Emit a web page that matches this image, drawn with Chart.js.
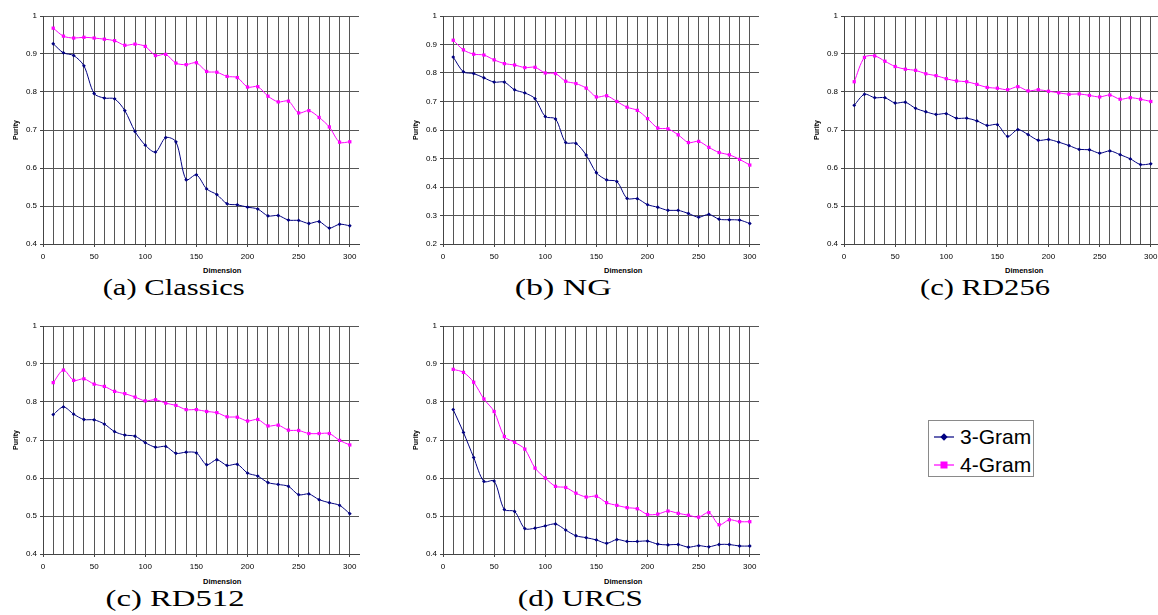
<!DOCTYPE html>
<html>
<head>
<meta charset="utf-8">
<script src="https://cdn.jsdelivr.net/npm/chart.js@4/dist/chart.umd.min.js"></script>
<style>
html,body{margin:0;padding:0;background:#fff;}
body{width:1158px;height:615px;overflow:hidden;position:relative;}
.panel{position:absolute;}
.cap{position:absolute;font-family:'Liberation Serif','Times New Roman',serif;font-size:24px;line-height:24px;white-space:nowrap;color:#000;transform-origin:center center;}
.dim{position:absolute;font-family:'Liberation Sans',Arial,sans-serif;font-size:7.5px;font-weight:bold;line-height:9px;white-space:nowrap;color:#000;}
#legend{position:absolute;left:928px;top:420px;width:104px;height:55px;border:1px solid #8a8a8a;background:#fff;}
.li{position:absolute;left:4px;height:24px;display:flex;align-items:center;font-family:'Liberation Sans',Arial,sans-serif;font-size:21px;color:#000;}
.li svg{margin-right:5px;}
</style>
</head>
<body>
<div class="panel" style="left:0px;top:0px"><canvas id="cA" width="369" height="264"></canvas></div>
<div class="panel" style="left:400px;top:0px"><canvas id="cB" width="369" height="264"></canvas></div>
<div class="panel" style="left:801px;top:0px"><canvas id="cC" width="369" height="264"></canvas></div>
<div class="panel" style="left:0px;top:310px"><canvas id="cD" width="369" height="264"></canvas></div>
<div class="panel" style="left:400px;top:310px"><canvas id="cE" width="369" height="264"></canvas></div>

<div class="dim" style="left:203px;top:266px">Dimension</div>
<div class="dim" style="left:604px;top:266px">Dimension</div>
<div class="dim" style="left:1005px;top:266px">Dimension</div>
<div class="dim" style="left:203px;top:577px">Dimension</div>
<div class="dim" style="left:604px;top:577px">Dimension</div>

<div class="cap" data-c="174" data-w="142" style="top:275px">(a) Classics</div>
<div class="cap" data-c="563" data-w="97" style="top:275px">(b) NG</div>
<div class="cap" data-c="985" data-w="130" style="top:275px">(c) RD256</div>
<div class="cap" data-c="175" data-w="139" style="top:586px">(c) RD512</div>
<div class="cap" data-c="580" data-w="125" style="top:586px">(d) URCS</div>

<div id="legend">
  <div class="li" style="top:4px"><svg width="22" height="10"><line x1="1" y1="5" x2="21" y2="5" stroke="#000080" stroke-width="1.2"/><polygon points="11,1.3 14.7,5 11,8.7 7.3,5" fill="#000080"/></svg><span>3-Gram</span></div>
  <div class="li" style="top:32px"><svg width="22" height="10"><line x1="1" y1="5" x2="21" y2="5" stroke="#ff00ff" stroke-width="1.2"/><rect x="7.5" y="1.5" width="7" height="7" fill="#ff00ff"/></svg><span>4-Gram</span></div>
</div>

<script>
// ---- data ----
const dims = [10,20,30,40,50,60,70,80,90,100,110,120,130,140,150,160,170,180,190,200,210,220,230,240,250,260,270,280,290,300];
const xGridValues = [0,10,20,30,40,50,60,70,80,90,100,110,120,130,140,150,160,170,180,190,200,210,220,230,240,250,260,270,280,290,300];
const xLabelValues = [0,50,100,150,200,250,300];
const yTicks04 = [0.4,0.5,0.6,0.7,0.8,0.9,1];
const yTicks02 = [0.2,0.3,0.4,0.5,0.6,0.7,0.8,0.9,1];
const seriesNames = ['3-Gram','4-Gram'];

const classics3 = [0.927,0.903,0.896,0.869,0.796,0.784,0.782,0.751,0.696,0.660,0.642,0.680,0.669,0.569,0.582,0.545,0.530,0.506,0.503,0.497,0.492,0.474,0.475,0.463,0.462,0.454,0.459,0.442,0.452,0.448];
const classics4 = [0.968,0.947,0.942,0.944,0.942,0.939,0.935,0.923,0.926,0.920,0.896,0.899,0.876,0.872,0.877,0.854,0.852,0.841,0.838,0.813,0.814,0.789,0.774,0.776,0.745,0.751,0.733,0.708,0.668,0.669];
const ng3 = [0.856,0.804,0.798,0.783,0.768,0.768,0.741,0.730,0.710,0.647,0.639,0.556,0.553,0.512,0.450,0.425,0.419,0.360,0.359,0.338,0.329,0.318,0.318,0.307,0.294,0.304,0.287,0.285,0.284,0.272];
const ng4 = [0.915,0.881,0.866,0.863,0.846,0.833,0.828,0.819,0.820,0.800,0.798,0.771,0.763,0.747,0.716,0.720,0.700,0.680,0.669,0.640,0.607,0.604,0.583,0.556,0.560,0.539,0.521,0.513,0.497,0.477];
const rd256_3 = [0.765,0.794,0.785,0.785,0.771,0.773,0.757,0.748,0.741,0.743,0.731,0.731,0.724,0.712,0.714,0.683,0.701,0.688,0.673,0.675,0.668,0.659,0.649,0.648,0.639,0.645,0.635,0.624,0.609,0.611];
const rd256_4 = [0.827,0.891,0.895,0.881,0.867,0.860,0.857,0.848,0.843,0.835,0.829,0.827,0.820,0.812,0.810,0.806,0.814,0.803,0.806,0.802,0.798,0.794,0.795,0.791,0.787,0.792,0.781,0.785,0.781,0.775];
const rd512_3 = [0.767,0.787,0.768,0.754,0.753,0.742,0.722,0.713,0.710,0.693,0.681,0.683,0.665,0.668,0.666,0.635,0.648,0.633,0.636,0.613,0.605,0.588,0.583,0.578,0.556,0.558,0.543,0.535,0.528,0.506];
const rd512_4 = [0.851,0.884,0.857,0.861,0.847,0.841,0.828,0.822,0.813,0.803,0.806,0.797,0.791,0.780,0.780,0.775,0.772,0.761,0.760,0.750,0.754,0.737,0.739,0.726,0.725,0.717,0.717,0.717,0.699,0.687];
const urcs3 = [0.780,0.720,0.654,0.591,0.592,0.517,0.512,0.467,0.468,0.474,0.479,0.463,0.448,0.443,0.437,0.428,0.438,0.433,0.433,0.434,0.426,0.424,0.425,0.418,0.422,0.419,0.425,0.425,0.421,0.421];
const urcs4 = [0.886,0.878,0.852,0.808,0.775,0.709,0.694,0.676,0.626,0.600,0.578,0.575,0.560,0.550,0.552,0.535,0.528,0.522,0.519,0.504,0.505,0.513,0.507,0.502,0.497,0.509,0.477,0.490,0.485,0.485];

// ---- chart builder ----
const AX = "'Liberation Sans', Arial, sans-serif";
function makeChart(id, s3, s4, yTickVals) {
  const pts = s => dims.map((d, i) => ({x: d, y: s[i]}));
  return new Chart(document.getElementById(id), {
    type: 'line',
    data: {
      datasets: [
        {label: seriesNames[0], data: pts(s3), borderColor: '#000080', backgroundColor: '#000080',
         borderWidth: 1, pointStyle: 'rectRot', pointRadius: 1.9, pointBorderWidth: 0, tension: 0.3},
        {label: seriesNames[1], data: pts(s4), borderColor: '#ff00ff', backgroundColor: '#ff00ff',
         borderWidth: 1, pointStyle: 'rect', pointRadius: 2.3, pointBorderWidth: 0, tension: 0.3}
      ]
    },
    options: {
      responsive: false, animation: false, events: [],
      layout: {padding: {left: 0, right: 10, top: 16, bottom: 0}},
      plugins: {legend: {display: false}, tooltip: {enabled: false}, title: {display: false}},
      scales: {
        x: {
          type: 'linear', min: 0, max: 309,
          afterBuildTicks: s => { s.ticks = xGridValues.map(v => ({value: v})); },
          afterFit: s => { s.height = 20; },
          ticks: {autoSkip: false, maxRotation: 0, padding: 5, color: '#000',
                  font: {family: AX, size: 8},
                  callback: v => xLabelValues.includes(v) ? String(v) : ''},
          grid: {color: '#555', lineWidth: 1, tickLength: 3,
                 tickColor: c => (c.tick && xLabelValues.includes(c.tick.value)) ? '#444' : 'rgba(0,0,0,0)'},
          border: {color: '#444', width: 1}
        },
        y: {
          min: yTickVals[0], max: yTickVals[yTickVals.length - 1],
          afterBuildTicks: s => { s.ticks = yTickVals.map(v => ({value: v})); },
          afterFit: s => { s.width = 43; },
          ticks: {autoSkip: false, padding: 3, color: '#000', font: {family: AX, size: 8},
                  callback: v => String(+(+v).toFixed(1))},
          title: {display: true, text: 'Purity', color: '#000',
                  font: {family: AX, size: 7, weight: 'bold'}, padding: {top: 12, bottom: 0}},
          grid: {color: '#555', lineWidth: 1, tickLength: 3, tickColor: '#444'},
          border: {color: '#444', width: 1}
        }
      }
    }
  });
}

makeChart('cA', classics3, classics4, yTicks04);
makeChart('cB', ng3, ng4, yTicks02);
makeChart('cC', rd256_3, rd256_4, yTicks04);
makeChart('cD', rd512_3, rd512_4, yTicks04);
makeChart('cE', urcs3, urcs4, yTicks04);

// fit captions to their measured widths
document.querySelectorAll('.cap').forEach(el => {
  const w = el.getBoundingClientRect().width;
  const tw = +el.dataset.w, c = +el.dataset.c;
  el.style.left = (c - w / 2) + 'px';
  el.style.transform = 'scaleX(' + (tw / w).toFixed(3) + ')';
});
</script>
</body>
</html>
